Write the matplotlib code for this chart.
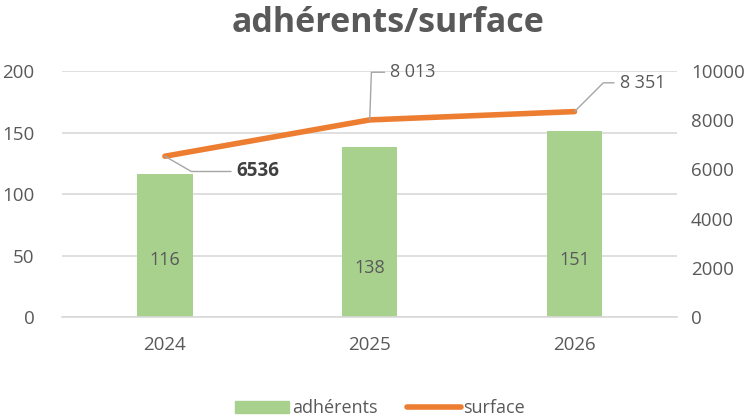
import matplotlib
matplotlib.use("Agg")
import matplotlib.pyplot as plt

years = ["2024", "2025", "2026"]
adherents = [116, 138, 151]
surface = [6536, 8013, 8351]
surface_labels = ["6536", "8 013", "8 351"]

plt.rcParams['font.family'] = ['Open Sans', 'DejaVu Sans']
txt = '#595959'
fig = plt.figure(figsize=(7.53, 4.19), dpi=100)
ax = fig.add_axes([0.083, 0.2434, 0.816, 0.5871])
ax2 = ax.twinx()

x = list(range(len(years)))
bars = ax.bar(x, adherents, width=0.27, color='#A9D18E', zorder=2)
ax.set_ylim(0, 200)
ax.set_yticks([0, 50, 100, 150, 200])
ax.set_xlim(-0.5, 2.5)
ax.set_xticks(x)
ax.set_xticklabels(years)
ax.grid(axis='y', color='#D9D9D9', linewidth=1.2, zorder=0)
ax.set_axisbelow(True)
for a in (ax, ax2):
    for s in a.spines.values():
        s.set_visible(False)
    a.tick_params(length=0, colors=txt, labelsize=13.5)
ax.tick_params(axis='x', pad=14)
ax.tick_params(axis='y', pad=20)
ax2.tick_params(axis='y', pad=10)
ax.spines['bottom'].set_visible(True)
ax.spines['bottom'].set_color('#D9D9D9')
ax.spines['bottom'].set_linewidth(1.2)

label_y = [46, 40, 46]
for xi, v, ly in zip(x, adherents, label_y):
    ax.text(xi, ly, str(v), ha='center', va='center', fontsize=13, color=txt)

ax2.plot(x, surface, color='#ED7D31', linewidth=4, solid_capstyle='round', zorder=3)
ax2.set_ylim(0, 10000)
ax2.set_yticks([0, 2000, 4000, 6000, 8000, 10000])

# data labels with leader lines
lc = '#A6A6A6'
ax2.annotate(surface_labels[0], xy=(x[0], surface[0]), xytext=(x[0] + 0.35, surface[0] - 620),
             fontsize=13.5, fontweight='bold', color='#404040', va='center', ha='left',
             arrowprops=dict(arrowstyle='-', color=lc, lw=1, shrinkA=2, shrinkB=0,
                             connectionstyle='angle,angleA=0,angleB=-30,rad=0'))
ax2.annotate(surface_labels[1], xy=(x[1], surface[1]), xytext=(x[1] + 0.1, 9950),
             fontsize=13, color=txt, va='center', ha='left',
             arrowprops=dict(arrowstyle='-', color=lc, lw=1, shrinkA=2, shrinkB=0,
                             connectionstyle='angle,angleA=180,angleB=88,rad=0'))
ax2.annotate(surface_labels[2], xy=(x[2], surface[2]), xytext=(x[2] + 0.22, 9520),
             fontsize=13, color=txt, va='center', ha='left',
             arrowprops=dict(arrowstyle='-', color=lc, lw=1, shrinkA=2, shrinkB=0,
                             connectionstyle='angle,angleA=180,angleB=45,rad=0'))

fig.suptitle('adhérents/surface', x=0.515, y=0.985, fontsize=24.5, fontweight='bold', color=txt, va='top')

from matplotlib.lines import Line2D
from matplotlib.patches import Patch
handles = [Patch(color='#A9D18E'), Line2D([0], [0], color='#ED7D31', lw=4, solid_capstyle='round')]
fig.legend(handles, ['adhérents', 'surface'], loc='lower center', bbox_to_anchor=(0.505, -0.035),
           ncol=2, frameon=False, fontsize=13, labelcolor=txt, handlelength=3.0,
           handletextpad=0.15, columnspacing=1.6)

fig.savefig('out.png', dpi=100)
